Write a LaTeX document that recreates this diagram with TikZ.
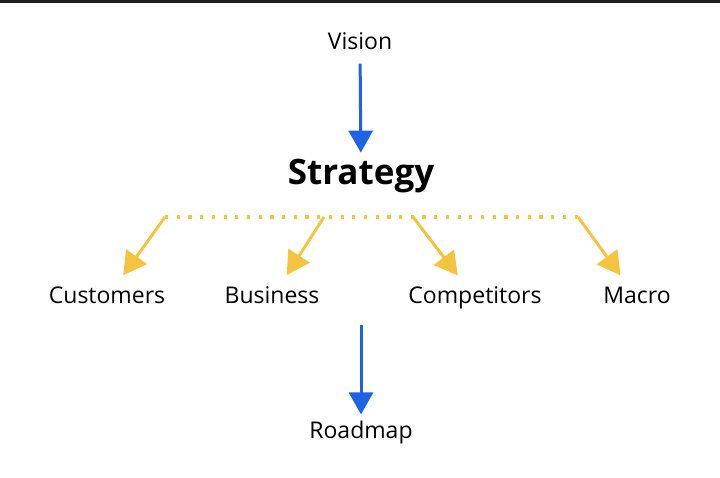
\documentclass[tikz,border=0pt]{standalone}
\usepackage{fontspec}
\setmainfont{Open Sans}
\usetikzlibrary{arrows.meta}
\definecolor{vblue}{HTML}{1E62E6}
\definecolor{syellow}{HTML}{F4C441}
\begin{document}
\begin{tikzpicture}[x=1pt,y=-1pt,
    lbl/.style={font=\fontsize{23}{27}\selectfont,text height=17pt,text depth=5pt},
    down/.style={vblue,line width=3pt,-{Triangle[width=24pt,length=22pt]}},
    fan/.style={syellow,line width=3pt,-{Triangle[width=25pt,length=23pt]}}]
    \useasboundingbox (0,0) rectangle (720,478);
    \fill[black!88] (0,0) rectangle (720,3);
    \node[lbl] (vision) at (360,44) {Vision};
    \node[font=\fontsize{35}{40}\selectfont\bfseries] (strat) at (361,176) {Strategy};
    \node[lbl] (cust) at (107,298) {Customers};
    \node[lbl] (bus) at (272,298) {Business};
    \node[lbl] (comp) at (475,298) {Competitors};
    \node[lbl] (macro) at (637,298) {Macro};
    \node[lbl] (road) at (361,432) {Roadmap};
    \coordinate (f1) at (165,217);
    \coordinate (f2) at (324,217);
    \coordinate (f3) at (413,217);
    \coordinate (f4) at (578,217);
    \coordinate (r1) at (361,325);
    \draw[syellow,line width=3.2pt,dash pattern=on 3.2pt off 8.5pt] (f1) -- (f4);
    \draw[down,shorten <=5pt,shorten >=3pt] (vision) -- (strat);
    \draw[fan,shorten >=10pt] (f1) -- (cust);
    \draw[fan,shorten >=10pt] (f2) -- (bus);
    \draw[fan,shorten >=10pt] (f3) -- (comp);
    \draw[fan,shorten >=10pt] (f4) -- (macro);
    \draw[down,shorten >=3pt] (r1) -- (road);
\end{tikzpicture}
\end{document}
